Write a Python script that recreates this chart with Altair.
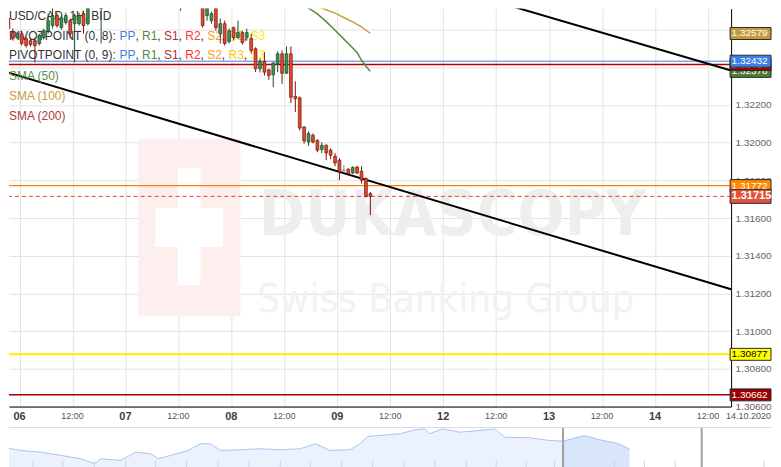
import numpy as np
import pandas as pd
import altair as alt

# ---------------- data ----------------
# 1H candles; hour index on a trading-time axis (0 = 06.10 00:00, weekend removed)
candle_hour = [-4, -3, -2, -1, 0, 1, 2, 3, 4, 5, 6, 7, 8, 9, 10, 11, 12, 13, 14, 15, 16, 17, 18,
               36, 37, 38, 39, 40, 41, 42, 43, 44, 45, 46, 47, 48, 49, 50, 51, 52, 53, 54, 55, 56, 57,
               58, 59, 60, 61, 62, 63, 64, 65, 66, 67, 68, 69, 70, 71, 72, 73, 74, 75, 76, 77, 78, 79]
candle_open = [1.32637, 1.32658, 1.32584, 1.32557, 1.32578, 1.32552, 1.32541, 1.32541, 1.32526, 1.32557,
               1.32594, 1.32621, 1.32674, 1.32610, 1.32637, 1.32647, 1.32631, 1.32631, 1.32684, 1.32631,
               1.32727, 1.32779, 1.32711,
               1.32769, 1.32727, 1.32727, 1.32737, 1.32764, 1.32737, 1.32674, 1.32647, 1.32721, 1.32578,
               1.32631, 1.32536, 1.32610, 1.32557, 1.32584, 1.32557, 1.32552, 1.32498, 1.32392, 1.32432,
               1.32386, 1.32360, 1.32418, 1.32471, 1.32368, 1.32471, 1.32245, 1.32238, 1.32083, 1.32003,
               1.32039, 1.32012, 1.31963, 1.31986, 1.31960, 1.31928, 1.31907, 1.31854, 1.31859, 1.31839,
               1.31871, 1.31848, 1.31810, 1.31730]
candle_high = [1.32658, 1.32674, 1.32605, 1.32589, 1.32594, 1.32563, 1.32552, 1.32557, 1.32578, 1.32605,
               1.32684, 1.32732, 1.32690, 1.32674, 1.32690, 1.32658, 1.32684, 1.32690, 1.32700, 1.32795,
               1.32806, 1.32795, 1.32806,
               1.32806, 1.32779, 1.32785, 1.32795, 1.32779, 1.32758, 1.32737, 1.32695, 1.32727, 1.32658,
               1.32647, 1.32605, 1.32615, 1.32647, 1.32594, 1.32605, 1.32578, 1.32506, 1.32446, 1.32480,
               1.32392, 1.32427, 1.32485, 1.32489, 1.32510, 1.32510, 1.32325, 1.32245, 1.32086, 1.32060,
               1.32049, 1.32018, 1.32002, 1.31991, 1.31970, 1.31944, 1.31917, 1.31880, 1.31864, 1.31875,
               1.31875, 1.31875, 1.31815, 1.31739]
candle_low = [1.32610, 1.32594, 1.32541, 1.32547, 1.32515, 1.32504, 1.32510, 1.32425, 1.32515, 1.32547,
              1.32578, 1.32605, 1.32610, 1.32600, 1.32626, 1.32552, 1.32425, 1.32621, 1.32578, 1.32621,
              1.32711, 1.32727, 1.32526,
              1.32700, 1.32716, 1.32716, 1.32732, 1.32732, 1.32610, 1.32647, 1.32631, 1.32594, 1.32526,
              1.32515, 1.32526, 1.32541, 1.32552, 1.32520, 1.32541, 1.32473, 1.32374, 1.32372, 1.32356,
              1.32333, 1.32294, 1.32374, 1.32312, 1.32365, 1.32210, 1.32162, 1.32065, 1.31995, 1.31983,
              1.31996, 1.31949, 1.31944, 1.31907, 1.31912, 1.31875, 1.31801, 1.31843, 1.31833, 1.31833,
              1.31833, 1.31783, 1.31709, 1.31616]
candle_close = [1.32621, 1.32605, 1.32552, 1.32578, 1.32526, 1.32515, 1.32520, 1.32515, 1.32568, 1.32594,
                1.32647, 1.32674, 1.32621, 1.32663, 1.32674, 1.32578, 1.32674, 1.32674, 1.32621, 1.32769,
                1.32779, 1.32737, 1.32779,
                1.32716, 1.32764, 1.32769, 1.32774, 1.32742, 1.32621, 1.32727, 1.32684, 1.32610, 1.32631,
                1.32526, 1.32594, 1.32557, 1.32584, 1.32531, 1.32584, 1.32489, 1.32392, 1.32432, 1.32374,
                1.32356, 1.32423, 1.32471, 1.32368, 1.32471, 1.32241, 1.32233, 1.32077, 1.32009, 1.32048,
                1.32003, 1.31960, 1.31986, 1.31945, 1.31933, 1.31892, 1.31845, 1.31852, 1.31836, 1.31868,
                1.31839, 1.31801, 1.31716, 1.31715]

sma50_hour = [63.5, 65.5, 67.5, 69.5, 71.5, 73.5, 75.5, 76.5, 77.5, 78.5, 79.5]
sma50_val = [1.32745, 1.32714, 1.32683, 1.32642, 1.32596, 1.32549, 1.32502, 1.32478, 1.32437, 1.32405, 1.32378]
sma100_hour = [63.5, 65.5, 67.5, 69.5, 71.5, 73.5, 75.5, 77.5, 79.5]
sma100_val = [1.32755, 1.32738, 1.32722, 1.32705, 1.32687, 1.32664, 1.32641, 1.32614, 1.32579]

trend_id = ["lower", "lower", "upper", "upper"]
trend_hour = [-4.18, 161.24, 107.23, 161.24]
trend_val = [1.32383, 1.31222, 1.32753, 1.32383]

level_val = [1.32432, 1.32414, 1.31772, 1.31715, 1.30877, 1.30662]
level_color = ["#3a80e6", "#b00000", "#ff8000", "#e8402a", "#ffee00", "#a00000"]

tag_val = [1.32579, 1.32378, 1.32414, 1.32432, 1.31772, 1.31715, 1.30877, 1.30662]
tag_fill = ["#c49a3c", "#4b7d36", "#a00000", "#3a80e6", "#ff8a00", "#e0533d", "#ffff00", "#9b0000"]
tag_text = ["white", "white", "white", "white", "white", "white", "black", "white"]

day_hours = [0, 24, 48, 72, 96, 120, 144]
day_labels = ["06", "07", "08", "09", "12", "13", "14"]
half_hours = [12, 36, 60, 84, 108, 132, 156]
half_label = "12:00"
end_label = "14.10.2020"
price_ticks = [1.306, 1.308, 1.310, 1.312, 1.314, 1.316, 1.318, 1.320, 1.322, 1.324, 1.326]

logo_h1 = [26.9, 35.9, 30.8]
logo_h2 = [50.06, 41.0, 46.1]
logo_v1 = [1.32021, 1.31864, 1.31653]
logo_v2 = [1.31078, 1.31245, 1.31446]
logo_col = ["#fcefee", "#ffffff", "#ffffff"]

nav_x = [0, 20, 40, 60, 80, 94, 100, 120, 135, 150, 157.5, 170, 187.5, 200, 210, 220, 240, 260, 280, 300,
         315, 330, 350, 360, 367.5, 380, 400, 415, 425, 430, 442.5, 460, 480, 495, 505, 530, 550, 563.5,
         585, 600, 617.5, 630]
nav_v = [20.3, 17, 15.3, 12, 8.7, 3.7, 8.7, 7, 15.3, 13.7, 8.7, 12, 17, 23.7, 23.7, 17, 17.7, 18.7, 17.7, 18.7,
         23.7, 17, 17.7, 23.7, 31, 32, 33.7, 37.7, 38.7, 33.7, 38.7, 35.3, 37, 38.7, 30.3, 29.7, 27, 26.3,
         32, 27.7, 24.3, 18.7]
nav_marks = [563.5, 702.5]
nav_ticks = [32, 62, 93.5, 125, 155, 186, 217.5, 248.5, 280, 310, 341.5, 372.5, 404, 435, 466.5, 496.5,
             526.5, 555, 615, 645, 676, 765]

# ---------------- styles ----------------
FONT = "Liberation Sans"
NARROW = "Liberation Sans Narrow, DejaVu Sans Condensed, sans-serif"
DARK = "#333333"
UP_FILL, UP_EDGE = "#3f8c4f", "#1d4d26"
DN_FILL, DN_EDGE = "#dc4a32", "#7a1508"
DOJI = "#8a8a8a"
X_DOMAIN = [-2.373, 161.24]
Y_DOMAIN = [1.30600, 1.32711]
PLOT_W, PLOT_H = 724, 399
TOTAL_W = 765

xs = alt.Scale(domain=X_DOMAIN, nice=False, zero=False, padding=0)
ys = alt.Scale(domain=Y_DOMAIN, nice=False, zero=False, padding=0)

x_axis = alt.Axis(
    values=day_hours + half_hours, labels=False,
    grid=True, gridColor="#e3e3e3", gridWidth=1,
    ticks=False, domain=True, domainColor="#000000", domainWidth=1, title=None, zindex=0,
)
y_axis = alt.Axis(
    orient="right", values=price_ticks, format=".5f",
    grid=True, gridColor="#e3e3e3", gridWidth=1,
    ticks=False, domain=True, domainColor="#000000", domainWidth=1,
    labelPadding=4, labelFont=FONT, labelFontSize=10, labelColor="#666666",
    labelBaseline="middle", labelOverlap=False, title=None, zindex=0,
)


def X(f):
    return alt.X(f, type="quantitative", scale=xs, axis=x_axis)


def Y(f):
    return alt.Y(f, type="quantitative", scale=ys, axis=y_axis)


cdf = pd.DataFrame({"hour": candle_hour, "open": candle_open, "high": candle_high,
                    "low": candle_low, "close": candle_close})
cdf["hc"] = cdf["hour"] + 0.5
diff = cdf["close"] - cdf["open"]
cdf["body"] = np.where(diff > 0.00003, UP_FILL, np.where(diff < -0.00003, DN_FILL, DOJI))
cdf["edge"] = np.where(diff > 0.00003, UP_EDGE, np.where(diff < -0.00003, DN_EDGE, DOJI))

layers = []

# watermark
wm = pd.DataFrame({"h1": logo_h1, "h2": logo_h2, "v1": logo_v1, "v2": logo_v2, "c": logo_col})
layers.append(alt.Chart(wm).mark_rect().encode(
    x=X("h1"), x2="h2", y=Y("v1"), y2="v2", color=alt.Color("c:N", scale=None)))
wmt = pd.DataFrame({"h": [98.1], "v": [1.31510], "t": ["DUKASCOPY"]})
layers.append(alt.Chart(wmt).mark_text(
    font=NARROW, fontWeight="bold", fontSize=62, color="#eeeeee", align="center", baseline="alphabetic"
).encode(x=X("h"), y=Y("v"), text="t:N"))
wmt2 = pd.DataFrame({"h": [96.6], "v": [1.31102], "t": ["Swiss Banking Group"]})
layers.append(alt.Chart(wmt2).mark_text(
    font=NARROW, fontSize=40, color="#f2f2f2", align="center", baseline="alphabetic"
).encode(x=X("h"), y=Y("v"), text="t:N"))

# horizontal levels
LEVEL_W = [1, 1.5, 1.2, 1, 2, 1.5]
LEVEL_DASH = [None, None, None, [4, 3], None, None]
for v, c, w, d in zip(level_val, level_color, LEVEL_W, LEVEL_DASH):
    kw = dict(color=c, strokeWidth=w)
    if d:
        kw["strokeDash"] = d
    layers.append(alt.Chart(pd.DataFrame({"v": [v]})).mark_rule(**kw).encode(y=Y("v")))

# trend lines
tdf = pd.DataFrame({"id": trend_id, "h": trend_hour, "v": trend_val})
layers.append(alt.Chart(tdf).mark_line(color="black", strokeWidth=2, clip=True).encode(
    x=X("h"), y=Y("v"), detail="id:N"))

# SMAs
layers.append(alt.Chart(pd.DataFrame({"h": sma50_hour, "v": sma50_val})).mark_line(
    color="#5a8c3c", strokeWidth=1.5, clip=True).encode(x=X("h"), y=Y("v")))
layers.append(alt.Chart(pd.DataFrame({"h": sma100_hour, "v": sma100_val})).mark_line(
    color="#c9a23f", strokeWidth=1.5, clip=True).encode(x=X("h"), y=Y("v")))

# legend text (Arial / Liberation Sans metrics)
AW = {" ": 278, "(": 333, ")": 333, ",": 278, ":": 278, "/": 278, "A": 667, "B": 667, "C": 722,
      "D": 722, "H": 722, "I": 278, "M": 833, "N": 722, "O": 778, "P": 667, "R": 722, "S": 667,
      "T": 611, "U": 722, "V": 667}
for ch in "0123456789":
    AW[ch] = 556
FS = 12


def tw(s):
    return sum(AW.get(ch, 556) for ch in s) * FS / 1000.0


PIV_COL = [("PP", "#3d85e0"), ("R1", "#4b8b3b"), ("S1", "#b22f2f"), ("R2", "#ff3333"),
           ("S2", "#ff9a1f"), ("R3", "#ffc400"), ("S3", "#ffee00")]
legend_rows = [[("USD/CAD, 1H, BID", DARK)]]
for n in (8, 9):
    row = [(f"PIVOTPOINT (0, {n}): ", DARK)]
    for i, (t, c) in enumerate(PIV_COL):
        row.append((t, c))
        if i < len(PIV_COL) - 1:
            row.append((", ", DARK))
    legend_rows.append(row)
legend_rows += [[("SMA (50)", "#5a8e47")], [("SMA (100)", "#c8a03e")], [("SMA (200)", "#b03a3e")]]
ROW_Y = [7.7, 27.3, 46.3, 68, 88, 108]
for row, yy in zip(legend_rows, ROW_Y):
    xx = 0.0
    for t, c in row:
        layers.append(alt.Chart(pd.DataFrame({"t": [t]})).mark_text(
            font=FONT, fontSize=FS, color=c, align="left", baseline="middle", x=round(xx, 2), y=yy
        ).encode(text="t:N"))
        xx += tw(t)

# candles
layers.append(alt.Chart(cdf).mark_rule(strokeWidth=1, clip=True).encode(
    x=X("hc"), y=Y("low"), y2="high", color=alt.Color("edge:N", scale=None)))
layers.append(alt.Chart(cdf).mark_bar(size=2.8, strokeWidth=0.7, clip=True).encode(
    x=X("hc"), y=Y("open"), y2="close",
    fill=alt.Fill("body:N", scale=None), stroke=alt.Stroke("edge:N", scale=None)))

# x-axis labels (two styles)
layers.append(alt.Chart(pd.DataFrame({"h": day_hours, "t": day_labels})).mark_text(
    font=FONT, fontSize=11, fontWeight="bold", color="#404040", baseline="top", align="center", y=PLOT_H + 4
).encode(x=X("h"), text="t:N"))
layers.append(alt.Chart(pd.DataFrame({"h": half_hours, "t": [half_label] * len(half_hours)})).mark_text(
    font=FONT, fontSize=9, color="#555555", baseline="top", align="center", y=PLOT_H + 5
).encode(x=X("h"), text="t:N"))
layers.append(alt.Chart(pd.DataFrame({"t": [end_label]})).mark_text(
    font=FONT, fontSize=9, color="#555555", baseline="top", align="right", y=PLOT_H + 5, x=TOTAL_W - 1
).encode(text="t:N"))

# price tags on the right axis (custom path: x 0..2 maps to 0..TAG_W px)
TAG_X = 723
TAG_W = TOTAL_W - TAG_X - 1
for v, f, tc in zip(tag_val, tag_fill, tag_text):
    big = abs(v - 1.31715) < 1e-9
    half = (7.0 if big else 6.0) / (TAG_W / 2.0)
    shape = f"M0,-{half:.4f}L2,-{half:.4f}L2,{half:.4f}L0,{half:.4f}Z"
    d = pd.DataFrame({"v": [v], "lab": [f"{v:.5f}"]})
    layers.append(alt.Chart(d).mark_point(
        shape=shape, size=TAG_W * TAG_W, filled=True, fill=f, stroke="#2a2a2a", strokeWidth=1,
        opacity=1, x=TAG_X
    ).encode(y=Y("v")))
    layers.append(alt.Chart(d).mark_text(
        font=FONT, fontSize=11 if big else 10, fontWeight="bold" if big else "normal",
        color=tc, align="left", baseline="middle", x=TAG_X + 1.5
    ).encode(y=Y("v"), text="lab:N"))

main = alt.layer(*layers).properties(width=PLOT_W, height=PLOT_H)

# ---------------- navigator ----------------
nxs = alt.Scale(domain=[8, 8 + TOTAL_W], nice=False, zero=False)
nys = alt.Scale(domain=[0, 40], nice=False, zero=False)
ndf = pd.DataFrame({"nx": nav_x, "nv": nav_v})


def NX(f):
    return alt.X(f, type="quantitative", scale=nxs, axis=None)


def NY(f):
    return alt.Y(f, type="quantitative", scale=nys, axis=None)


nav = alt.layer(
    alt.Chart(ndf).mark_area(color="#ebf2fd", clip=True).encode(x=NX("nx"), y=NY("nv")),
    alt.Chart(ndf).transform_filter(f"datum.nx >= {nav_marks[0]}").mark_area(
        color="#d9e5fa", clip=True).encode(x=NX("nx"), y=NY("nv")),
    alt.Chart(ndf).mark_line(color="#a8c4f0", strokeWidth=1, clip=True).encode(x=NX("nx"), y=NY("nv")),
    alt.Chart(pd.DataFrame({"nx": nav_ticks, "a": [0] * len(nav_ticks), "b": [7] * len(nav_ticks)})).mark_rule(
        color="#d4d4d4").encode(x=NX("nx"), y=NY("a"), y2="b"),
    alt.Chart(pd.DataFrame({"nx": nav_marks})).mark_rule(color="#a0a0a0", strokeWidth=2).encode(x=NX("nx")),
    alt.Chart(pd.DataFrame({"top": [40]})).mark_rule(color="#dcdcdc", strokeWidth=1).encode(y=NY("top")),
).properties(width=TOTAL_W, height=40)

chart = alt.vconcat(main, nav, spacing=5, padding=0).resolve_scale(
    x="independent", y="independent").configure_view(strokeWidth=0)

chart.save("out.html", embed_options={"renderer": "svg", "actions": False})
